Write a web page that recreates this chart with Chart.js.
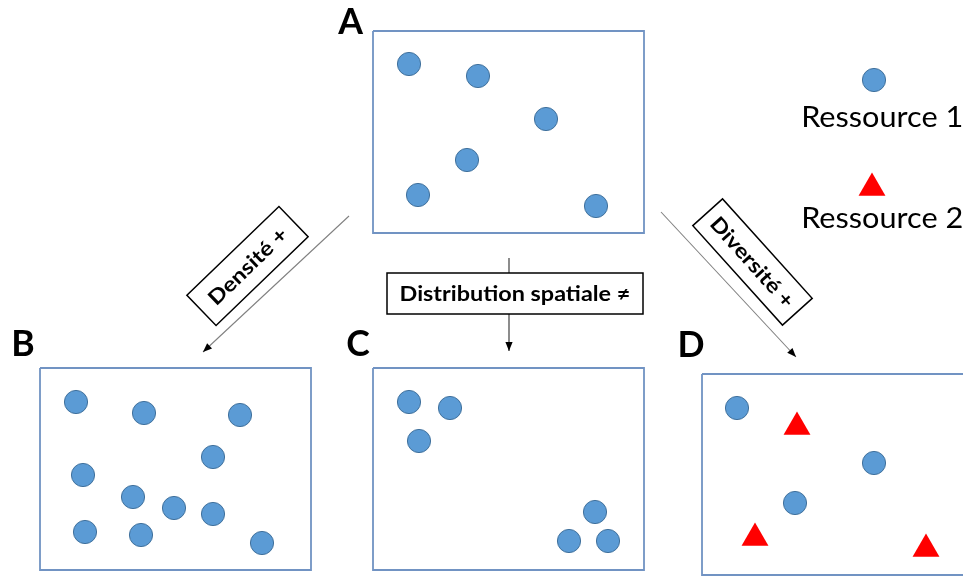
<!DOCTYPE html>
<html><head><meta charset="utf-8">
<script src="https://cdn.jsdelivr.net/npm/chart.js@4"></script>
<style>html,body{margin:0;padding:0;background:#fff}#wrap{width:963px;height:576px;position:relative}</style>
</head><body><div id="wrap"><canvas id="c"></canvas></div>
<script>
// ---- data (positions, in picture units) ----
const panelA_x = [409, 478, 546, 467, 418, 596];
const panelA_y = [64, 76, 119, 160, 195, 206];
const panelB_x = [76, 144, 240, 213, 83, 133, 174, 213, 85, 141, 262];
const panelB_y = [402, 413, 415, 457, 475, 497, 508, 514, 532, 535, 543];
const panelC_x = [409, 450, 419, 595, 569, 608];
const panelC_y = [402, 408, 441, 512, 541, 541];
const panelD_res1_x = [737, 874, 795];
const panelD_res1_y = [408, 463, 503];
const panelD_res2_x = [797, 755, 926];
const panelD_res2_y = [427, 538, 549];
const legendLabels = ['Ressource 1', 'Ressource 2'];
const panelLetters = ['A', 'B', 'C', 'D'];
const arrowLabels = ['Densité +', 'Distribution spatiale ≠', 'Diversité +'];

// ---- layout ----
const legendMarker1 = {x: 874, y: 80};
const legendMarker2 = {x: 872, y: 188};
const panelBoxes = [
  {x0: 373, y0: 31, x1: 644, y1: 233},
  {x0: 40, y0: 368, x1: 311, y1: 570},
  {x0: 373, y0: 368, x1: 644, y1: 570},
  {x0: 702, y0: 374, x1: 975, y1: 575}
];
const arrows = [
  {x0: 349, y0: 216, x1: 203, y1: 352, color: '#808080'},
  {x0: 509, y0: 314, x1: 509, y1: 351, color: '#303030'},
  {x0: 661, y0: 212, x1: 796, y1: 357, color: '#808080'}
];
const stubLine = {x0: 509, y0: 258, x1: 509, y1: 273};
const letterPos = [
  {cx: 350.5, base: 34.3}, {cx: 23, base: 356}, {cx: 358, base: 356}, {cx: 691, base: 356.5}
];
const rotBoxes = [
  {cx: 247.5, cy: 266, w: 128, h: 42, ang: -44, textW: 99, label: 0},
  {cx: 752.5, cy: 262, w: 134, h: 40, ang: 48, textW: 112, label: 2}
];
const flatBox = {x0: 387, y0: 273, x1: 643, y1: 314, tl: 400.7, tr: 629.3, base: 301.3, label: 1};
const legendText = [
  {l: 803.3, r: 961.7, base: 127.3},
  {l: 803.3, r: 961.7, base: 227.8}
];

const zip = (xs, ys) => xs.map((x, i) => ({x, y: ys[i]}));
const CIRCLE_FILL = '#5B9BD5', CIRCLE_LINE = '#41719C', TRI = '#FF0000', BOX = '#7193C3';

function circles(xs, ys) {
  return {type: 'scatter', data: zip(xs, ys), pointStyle: 'circle', pointRadius: 11.6,
    backgroundColor: CIRCLE_FILL, borderColor: CIRCLE_LINE, borderWidth: 1, clip: false, order: 1};
}
function triangles(xs, ys) {
  return {type: 'scatter', data: zip(xs, ys), pointStyle: 'triangle', pointRadius: 15.5,
    backgroundColor: TRI, borderColor: TRI, borderWidth: 0, clip: false, order: 1};
}
function boxLine(b) {
  return {type: 'line', data: [{x: b.x0, y: b.y0}, {x: b.x1, y: b.y0}, {x: b.x1, y: b.y1}, {x: b.x0, y: b.y1}, {x: b.x0, y: b.y0}],
    borderColor: BOX, borderWidth: 1.8, pointRadius: 0, fill: false, tension: 0, clip: false, order: 5};
}
function segLine(s, color, w) {
  return {type: 'line', data: [{x: s.x0, y: s.y0}, {x: s.x1, y: s.y1}], borderColor: color, borderWidth: w,
    pointRadius: 0, fill: false, tension: 0, clip: false, order: 6};
}

const datasets = [
  circles(panelA_x, panelA_y), circles(panelB_x, panelB_y), circles(panelC_x, panelC_y),
  circles(panelD_res1_x, panelD_res1_y), triangles(panelD_res2_x, panelD_res2_y),
  circles([legendMarker1.x], [legendMarker1.y]), triangles([legendMarker2.x], [legendMarker2.y]),
  ...panelBoxes.map(boxLine),
  ...arrows.map(a => segLine(a, a.color, 1.1)),
  segLine(stubLine, '#303030', 1.1)
];

function capRatio(ctx, weight, family) {
  ctx.font = `${weight} 100px ${family}`;
  ctx.textAlign = 'left'; ctx.textBaseline = 'alphabetic';
  return ctx.measureText('H').actualBoundingBoxAscent / 100;
}
function fitText(ctx, text, weight, family, capH, left, right, base) {
  const size = capH / capRatio(ctx, weight, family);
  ctx.font = `${weight} ${size}px ${family}`;
  ctx.textAlign = 'left'; ctx.textBaseline = 'alphabetic';
  const m = ctx.measureText(text);
  const inkW = m.actualBoundingBoxLeft + m.actualBoundingBoxRight;
  const sx = (right - left) / inkW;
  ctx.save();
  ctx.translate(left, base);
  ctx.scale(sx, 1);
  ctx.fillText(text, m.actualBoundingBoxLeft, 0);
  ctx.restore();
}

const FAM = 'Lato, "Open Sans", sans-serif';

const diagram = {
  id: 'diagram',
  afterDatasetsDraw(chart) {
    const ctx = chart.ctx, X = chart.scales.x, Y = chart.scales.y;
    const px = v => X.getPixelForValue(v), py = v => Y.getPixelForValue(v);
    ctx.save();
    ctx.fillStyle = '#000';
    // arrowheads
    arrows.forEach(a => {
      const x1 = px(a.x1), y1 = py(a.y1), x0 = px(a.x0), y0 = py(a.y0);
      const ang = Math.atan2(y1 - y0, x1 - x0);
      const L = 9, W = 3.6;
      ctx.beginPath();
      ctx.moveTo(x1, y1);
      ctx.lineTo(x1 - L * Math.cos(ang) + W * Math.sin(ang), y1 - L * Math.sin(ang) - W * Math.cos(ang));
      ctx.lineTo(x1 - L * Math.cos(ang) - W * Math.sin(ang), y1 - L * Math.sin(ang) + W * Math.cos(ang));
      ctx.closePath();
      ctx.fill();
    });
    // rotated label boxes
    rotBoxes.forEach(b => {
      ctx.save();
      ctx.translate(px(b.cx), py(b.cy));
      ctx.rotate(b.ang * Math.PI / 180);
      ctx.fillStyle = '#fff';
      ctx.fillRect(-b.w / 2, -b.h / 2, b.w, b.h);
      ctx.strokeStyle = '#000'; ctx.lineWidth = 1.5;
      ctx.strokeRect(-b.w / 2, -b.h / 2, b.w, b.h);
      ctx.fillStyle = '#000';
      fitText(ctx, arrowLabels[b.label], 'bold', FAM, 15, -b.textW / 2, b.textW / 2, 7.5);
      ctx.restore();
    });
    // flat label box
    ctx.fillStyle = '#fff';
    const fx0 = px(flatBox.x0), fy0 = py(flatBox.y0), fx1 = px(flatBox.x1), fy1 = py(flatBox.y1);
    ctx.fillRect(fx0, fy0, fx1 - fx0, fy1 - fy0);
    ctx.strokeStyle = '#000'; ctx.lineWidth = 1.5;
    ctx.strokeRect(fx0, fy0, fx1 - fx0, fy1 - fy0);
    ctx.fillStyle = '#000';
    fitText(ctx, arrowLabels[flatBox.label], 'bold', FAM, 15, px(flatBox.tl), px(flatBox.tr), py(flatBox.base));
    // panel letters
    const cr = capRatio(ctx, 'bold', FAM);
    ctx.font = `bold ${26 / cr}px ${FAM}`;
    ctx.textAlign = 'center'; ctx.textBaseline = 'alphabetic';
    panelLetters.forEach((t, i) => ctx.fillText(t, px(letterPos[i].cx), py(letterPos[i].base)));
    // legend texts
    legendLabels.forEach((t, i) => {
      const p = legendText[i];
      fitText(ctx, t, 'normal', FAM, 20.6, px(p.l), px(p.r), py(p.base));
    });
    ctx.restore();
  }
};

new Chart(document.getElementById('c'), {
  type: 'scatter',
  data: {datasets},
  options: {
    responsive: true, maintainAspectRatio: false, animation: false,
    layout: {padding: 0, autoPadding: false},
    plugins: {legend: {display: false}, tooltip: {enabled: false}},
    scales: {
      x: {type: 'linear', display: false, min: 0, max: 963},
      y: {type: 'linear', display: false, min: 0, max: 576, reverse: true}
    }
  },
  plugins: [diagram]
});
</script>
</body></html>
